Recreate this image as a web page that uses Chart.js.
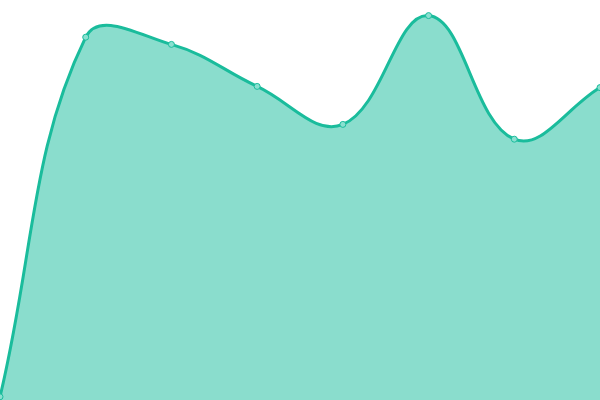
<!DOCTYPE html>
<html>
<head>
<meta charset="utf-8">
<script src="https://cdn.jsdelivr.net/npm/chart.js@4"></script>
<style>
html,body{margin:0;padding:0;background:#fff;}
#wrap{width:600px;height:400px;}
</style>
</head>
<body>
<div id="wrap"><canvas id="c" width="600" height="400"></canvas></div>
<script>
const labels = ["A","B","C","D","E","F","G","H"];
const values = [0.8, 90.7, 88.9, 78.4, 68.9, 96.1, 65.2, 78.1];
const yMin = 0;
const yMax = 100;

new Chart(document.getElementById('c'), {
  type: 'line',
  data: {
    labels: labels,
    datasets: [{
      data: values,
      borderColor: '#1abc9c',
      backgroundColor: 'rgba(26,188,156,0.51)',
      fill: true,
      tension: 0.4,
      borderWidth: 3,
      pointRadius: 3,
      pointBorderWidth: 1,
      pointBackgroundColor: '#8ae0d0',
      pointBorderColor: '#1abc9c'
    }]
  },
  options: {
    responsive: false,
    animation: false,
    layout: { padding: 0, autoPadding: false },
    plugins: { legend: { display: false }, tooltip: { enabled: false } },
    scales: {
      x: { display: false },
      y: { display: false, min: yMin, max: yMax }
    }
  }
});
</script>
</body>
</html>
